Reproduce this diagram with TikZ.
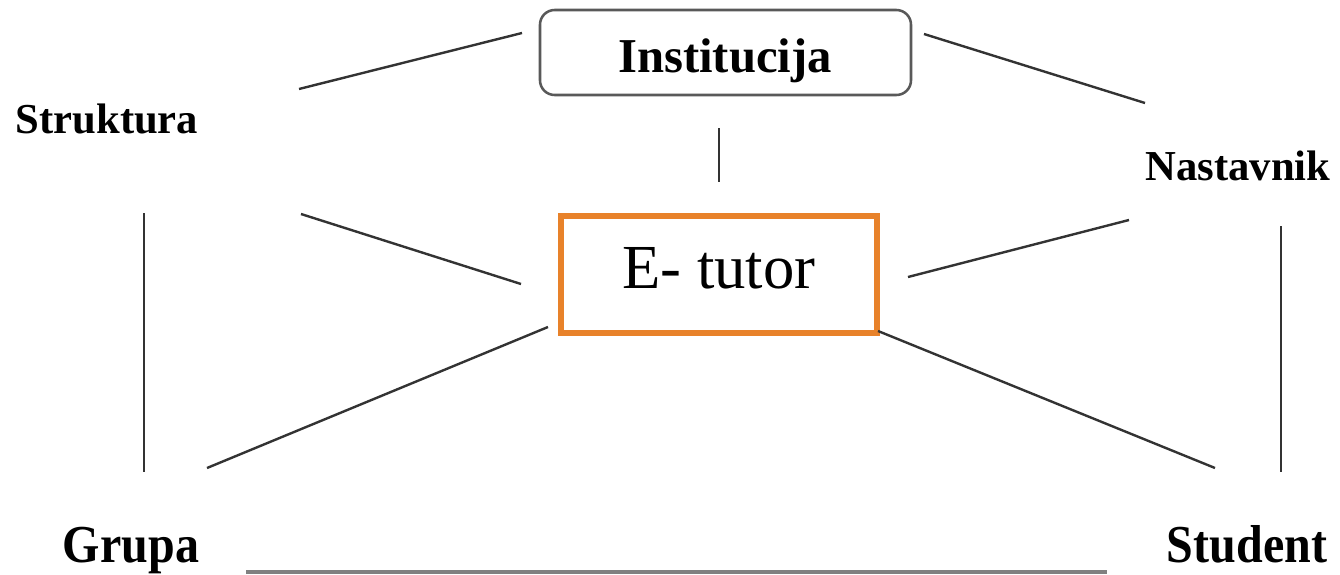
\documentclass[tikz,border=0pt]{standalone}
\usepackage{fontspec}
\setmainfont{Liberation Serif}
\begin{document}
\begin{tikzpicture}[x=0.75pt,y=-0.75pt,
  link/.style={draw=black!80,line width=1.8pt},
  label/.style={font=\bfseries\fontsize{32}{36}\selectfont,anchor=base,inner sep=0pt},
  biglabel/.style={font=\bfseries\fontsize{40}{44}\selectfont,anchor=base,inner sep=0pt,xscale=0.9},
  rolebox/.style={draw=black!65,line width=1.9pt,rounded corners=11pt},
  corebox/.style={draw=etorange,line width=4.8pt}]
\definecolor{etorange}{HTML}{E8822A}
\useasboundingbox (0,0) rectangle (1340,575);

% boxes
\draw[rolebox] (540,10) rectangle (911,95);
\draw[corebox] (561,216) rectangle (877,333);
\node[anchor=base,inner sep=0pt,font=\bfseries\fontsize{36.5}{40}\selectfont] (inst) at (725,72) {Institucija};
\node[anchor=base,inner sep=0pt,font=\fontsize{47}{52}\selectfont] (etutor) at (719,288) {E- tutor};

% surrounding labels
\node[label] (strukt) at (107,133) {Struktura};
\node[label] (nast) at (1238,180) {Nastavnik};
\node[biglabel] (grupa) at (131,562) {Grupa};
\node[biglabel] (student) at (1247,562) {Student};

% end points of the connecting strokes
\coordinate (sI1) at (299,89);   \coordinate (sI2) at (522,33);
\coordinate (iN1) at (924,34);   \coordinate (iN2) at (1145,103);
\coordinate (iE1) at (719,128);  \coordinate (iE2) at (719,182);
\coordinate (sE1) at (301,214);  \coordinate (sE2) at (521,284);
\coordinate (eN1) at (908,277);  \coordinate (eN2) at (1129,220);
\coordinate (sG1) at (144,213);  \coordinate (sG2) at (144,472);
\coordinate (nS1) at (1281,226); \coordinate (nS2) at (1281,472);
\coordinate (eG1) at (548,327);  \coordinate (eG2) at (207,468);
\coordinate (eS1) at (878,331);  \coordinate (eS2) at (1215,468);
\coordinate (gS1) at (246,572);  \coordinate (gS2) at (1107,572);

\draw[link] (sI1) -- (sI2);
\draw[link] (iN1) -- (iN2);
\draw[link] (iE1) -- (iE2);
\draw[link] (sE1) -- (sE2);
\draw[link] (eN1) -- (eN2);
\draw[link] (sG1) -- (sG2);
\draw[link] (nS1) -- (nS2);
\draw[link] (eG1) -- (eG2);
\draw[link] (eS1) -- (eS2);
\draw[draw=black!50,line width=3pt] (gS1) -- (gS2);
\end{tikzpicture}
\end{document}
